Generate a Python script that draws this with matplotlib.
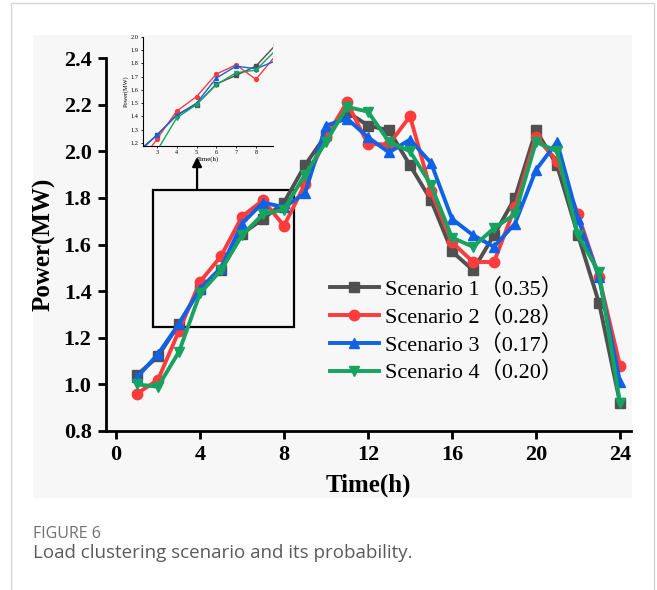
import matplotlib.pyplot as plt
import numpy as np
from matplotlib import patches

hours = np.arange(1, 25)
scenario_1 = [1.04, 1.12, 1.26, 1.41, 1.49, 1.645, 1.71, 1.78, 1.94, 2.07, 2.17, 2.11,
              2.09, 1.94, 1.79, 1.57, 1.49, 1.64, 1.80, 2.09, 1.94, 1.64, 1.35, 0.92]
scenario_2 = [0.96, 1.02, 1.23, 1.44, 1.55, 1.72, 1.79, 1.68, 1.86, 2.06, 2.21, 2.03,
              2.03, 2.15, 1.83, 1.61, 1.525, 1.525, 1.76, 2.06, 1.96, 1.73, 1.46, 1.08]
scenario_3 = [1.03, 1.13, 1.26, 1.41, 1.50, 1.69, 1.78, 1.76, 1.82, 2.11, 2.14, 2.06,
              1.995, 2.05, 1.95, 1.71, 1.64, 1.59, 1.69, 1.92, 2.04, 1.71, 1.46, 1.01]
scenario_4 = [1.00, 0.99, 1.14, 1.39, 1.49, 1.64, 1.73, 1.75, 1.90, 2.04, 2.19, 2.17,
              2.04, 2.00, 1.855, 1.63, 1.59, 1.67, 1.73, 2.04, 2.00, 1.64, 1.48, 0.92]
labels = ["Scenario 1（0.35）", "Scenario 2（0.28）", "Scenario 3（0.17）", "Scenario 4（0.20）"]
colors = ["#505050", "#ff3b3b", "#0f62e6", "#16a35f"]
markers = ["s", "o", "^", "v"]
series = [scenario_1, scenario_2, scenario_3, scenario_4]

serif = ["Liberation Serif", "DejaVu Serif"]
legend_font = ["Liberation Serif", "Noto Sans CJK SC"]

fig = plt.figure(figsize=(6.57, 5.90), dpi=100)

# outer frame and grey panel
fig.add_artist(patches.Rectangle((10.5 / 657, -0.1), 643.5 / 657, 0.1 + 586.6 / 590,
                                 transform=fig.transFigure, fill=False,
                                 ec="#d6d6d6", lw=1.0))
fig.add_artist(patches.Rectangle((33 / 657, 92 / 590), 599 / 657, 463 / 590,
                                 transform=fig.transFigure, fc="#f7f7f7", ec="none",
                                 zorder=0))

ax = fig.add_axes([105.5 / 657, 159 / 590, 525 / 657, 373 / 590])
ax.patch.set_visible(False)
for s, c, m, lab in zip(series, colors, markers, labels):
    ax.plot(hours, s, color=c, marker=m, lw=2.8, ms=7.5, label=lab, zorder=3)

ax.set_xlim(-0.5, 24.5)
ax.set_ylim(0.8, 2.4)
ax.set_xticks(np.arange(0, 25, 4))
ax.set_yticks(np.arange(0.8, 2.41, 0.2))
ax.set_yticklabels([f"{v:.1f}" for v in np.arange(0.8, 2.41, 0.2)])
for sp in ["top", "right"]:
    ax.spines[sp].set_visible(False)
for sp in ["left", "bottom"]:
    ax.spines[sp].set_linewidth(2.0)
ax.tick_params(direction="out", length=6, width=2.0, pad=4)
for t in ax.get_xticklabels() + ax.get_yticklabels():
    t.set_fontfamily(serif)
    t.set_fontweight("bold")
    t.set_fontsize(16)
ax.set_xlabel("Time(h)", fontfamily=serif, fontweight="bold", fontsize=18, labelpad=6)
ax.set_ylabel("Power(MW)", fontfamily=serif, fontweight="bold", fontsize=18, labelpad=6)

leg = ax.legend(loc="lower left", bbox_to_anchor=(0.41, 0.104), frameon=False,
                prop={"family": legend_font, "size": 16}, handlelength=2.2,
                labelspacing=0.3, handletextpad=0.3, borderaxespad=0)

# zoom box
ax.add_patch(patches.Rectangle((1.76, 1.245), 6.72, 0.59, fill=False, ec="black",
                               lw=1.6, zorder=1.5))

# inset
ins = fig.add_axes([142.7 / 657, 444 / 590, 130 / 657, 109 / 590])
ins.patch.set_visible(False)
for s, c, m in zip(series, colors, markers):
    ins.plot(hours, s, color=c, marker=m, lw=1.0, ms=2.8)
ins.set_xlim(2.28, 8.85)
ins.set_ylim(1.177, 2.0)
ins.set_xticks(np.arange(3, 9))
ins.set_yticks(np.arange(1.2, 2.01, 0.1))
ins.set_yticklabels([f"{v:.1f}" for v in np.arange(1.2, 2.01, 0.1)])
for sp in ["top", "right"]:
    ins.spines[sp].set_visible(False)
for sp in ["left", "bottom"]:
    ins.spines[sp].set_linewidth(0.8)
ins.tick_params(direction="out", length=1.5, width=0.6, pad=1.5, labelsize=4.5)
for t in ins.get_xticklabels() + ins.get_yticklabels():
    t.set_fontfamily(serif)
ins.set_xlabel("Time(h)", fontfamily=serif, fontsize=5, labelpad=1)
ins.set_ylabel("Power(MW)", fontfamily=serif, fontsize=4.5, labelpad=1.5)

ins.annotate("", xy=(3.86, 1.976), xycoords=ax.transData,
             xytext=(3.86, 1.834), textcoords=ax.transData,
             arrowprops=dict(arrowstyle="-|>", color="black", lw=1.6,
                             mutation_scale=14, shrinkA=0, shrinkB=0),
             annotation_clip=False)

fig.text(33 / 657, 1 - 534 / 590, "FIGURE 6", fontfamily="Open Sans", fontsize=11.5,
         color="#707070", va="center", ha="left")
fig.text(33 / 657, 1 - 553 / 590, "Load clustering scenario and its probability.",
         fontfamily="Open Sans", fontsize=13.5, color="#5a5a5a", va="center", ha="left")

fig.savefig("out.png", dpi=100)
